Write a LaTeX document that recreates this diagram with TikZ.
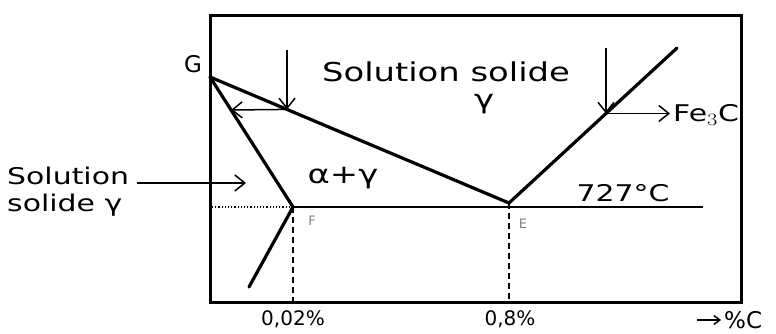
\documentclass[tikz,border=0pt]{standalone}
\usepackage{fontspec}
\setmainfont{DejaVu Sans}
\usetikzlibrary{arrows.meta}
\newcommand{\wide}[1]{\scalebox{1.3}[1]{#1}}
\begin{document}
\begin{tikzpicture}[x=1pt,y=-1pt,
  frame/.style={line width=3pt},
  curve/.style={line width=3.2pt,line cap=round,line join=round},
  pointer/.style={line width=1.5pt,-{Straight Barb[length=10pt,width=16pt,line width=1.5pt]}},
  guide/.style={line width=1.5pt,dashed,dash pattern=on 6pt off 4pt},
  big/.style={font=\fontsize{26}{30}\selectfont},
  mid/.style={font=\fontsize{23}{26}\selectfont},
  small/.style={font=\fontsize{20}{24}\selectfont},
  tiny/.style={font=\fontsize{13}{15}\selectfont,text=gray}]
\useasboundingbox (0,0) rectangle (776,334);
% frame
\coordinate (TL) at (210,16);
\coordinate (BR) at (741,302);
\draw[frame] (TL) rectangle (BR);
% key points
\coordinate (G) at (210,77);
\coordinate (E) at (509,203);
\coordinate (F) at (293,207);
\coordinate (Fb) at (249,287);
\coordinate (Et) at (677,48);
\coordinate (P1) at (287,109.4);
\coordinate (Q) at (231,110);
\coordinate (P2) at (606,113.5);
\coordinate (R) at (670,113.5);
\coordinate (A1) at (287,50);
\coordinate (A2) at (606,48);
\coordinate (Lend) at (703,207);
\coordinate (Dl) at (212,207);
\coordinate (Fx) at (293,302);
\coordinate (Ex) at (509,302);
\coordinate (S1) at (137,183);
\coordinate (S2) at (246,183);
% phase lines
\draw[curve] (G) -- (E) -- (Et);
\draw[curve] (G) -- (F) -- (Fb);
\draw[line width=1.8pt] (F) -- (Lend);
\draw[line width=1.2pt,dotted] (Dl) -- (F);
\draw[guide] (F) -- (Fx);
\draw[guide] (E) -- (Ex);
% arrows
\draw[pointer] (A1) -- (P1);
\draw[pointer] (P1) -- (Q);
\draw[pointer] (A2) -- (P2);
\draw[pointer] (P2) -- (R);
\draw[pointer] (S1) -- (S2);
% labels
\node[mid] (lG) at (193,64) {G};
\node[big] (t1) at (446,72) {\wide{Solution solide}};
\node[big] (t2) at (484,104) {\wide{γ}};
\node[big] (t3) at (343,178) {\wide{α+γ}};
\node[mid,anchor=west,inner sep=0pt] (t4) at (7,176) {\wide{Solution}};
\node[mid,anchor=west,inner sep=0pt] (t5) at (7,205) {\wide{solide γ}};
\node[mid,anchor=west,inner sep=0pt] (t6) at (673,115) {\wide{Fe$_3$C}};
\node[mid] (t7) at (623,193) {\wide{727°C}};
\node[tiny] (lF) at (312,221) {F};
\node[tiny] (lE) at (523,224) {E};
\node[small] (t8) at (293,319) {0,02\%};
\node[small] (t9) at (510,319) {0,8\%};
\coordinate (C1) at (697,320);
\coordinate (C2) at (721,320);
\draw[line width=1.4pt,-{Straight Barb[length=6pt,width=9pt]}] (C1) -- (C2);
\node[mid,anchor=west,inner sep=0pt] (t10) at (724,320) {\%C};
\end{tikzpicture}
\end{document}
